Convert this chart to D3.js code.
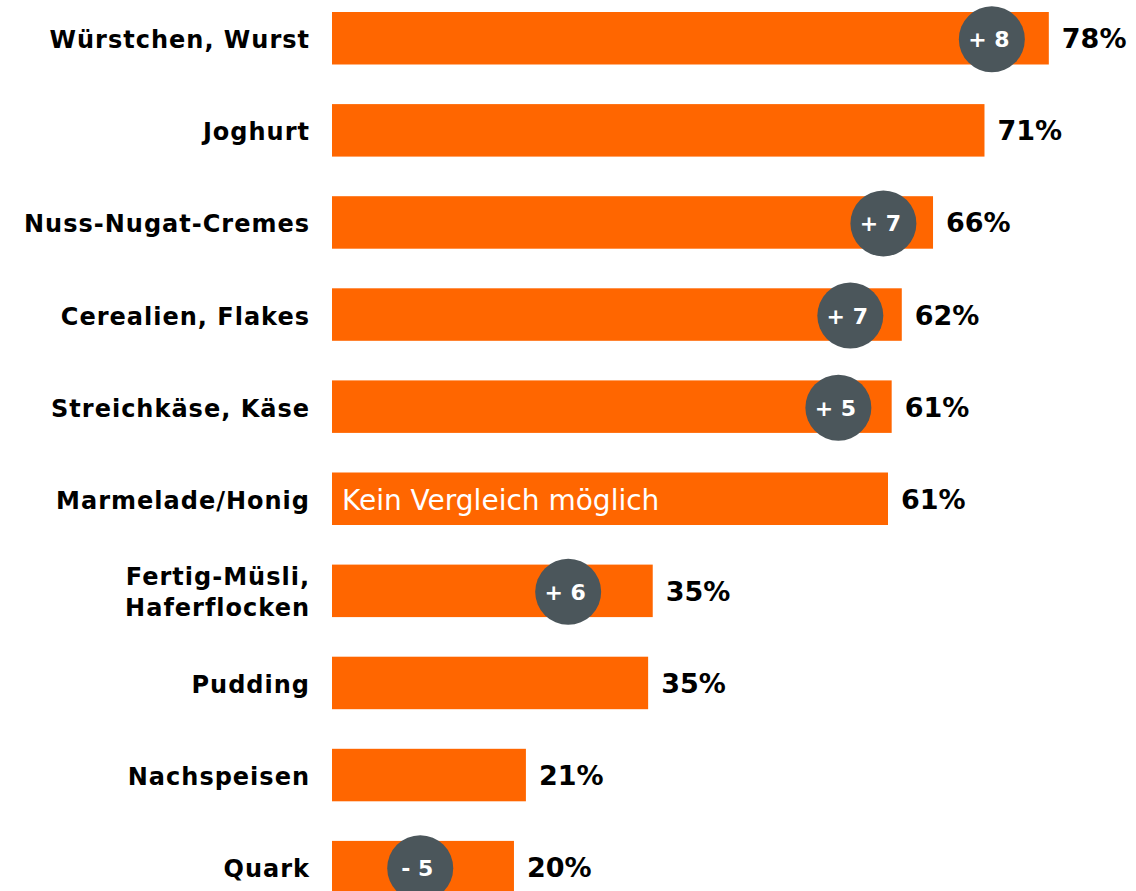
<!DOCTYPE html>
<html>
<head>
<meta charset="utf-8">
<script src="https://cdn.jsdelivr.net/npm/d3@7"></script>
<style>
  body { margin: 0; background: #fff; }
</style>
</head>
<body>
<script>
// categories, top to bottom
var categories = ["Würstchen, Wurst", "Joghurt", "Nuss-Nugat-Cremes", "Cerealien, Flakes",
  "Streichkäse, Käse", "Marmelade/Honig", "Fertig-Müsli, Haferflocken", "Pudding", "Nachspeisen", "Quark"];
// share in percent (bar length)
var values = [78, 71, 65.4, 62, 60.9, 60.5, 34.9, 34.4, 21.1, 19.8];
var valueLabels = ["78%", "71%", "66%", "62%", "61%", "61%", "35%", "35%", "21%", "20%"];
// change vs. previous survey (null = no badge)
var changes = ["+ 8", null, "+ 7", "+ 7", "+ 5", null, "+ 6", null, null, "- 5"];
// where the badge sits, in percent units
var changeAt = [71.8, null, 60.0, 56.4, 55.1, null, 25.7, null, null, 9.6];
var noteText = ["", "", "", "", "", "Kein Vergleich möglich", "", "", "", ""];

window.onload = function(){
  var w = 1136, h = 891;
  var orange = "#ff6600", grey = "#4b565b";

  var svg = d3.select("body").append("svg")
    .attr("width", w)
    .attr("height", h);

  var x = d3.scaleLinear()
    .domain([0, 100])
    .range([332, 1251]);

  var y = d3.scaleBand()
    .domain(categories)
    .range([-7.8, 913.2])
    .paddingInner(0.43)
    .paddingOuter(0.215);

  var rows = categories.map(function(c, i){
    return { cat: c, v: values[i], lab: valueLabels[i], chg: changes[i], at: changeAt[i], note: noteText[i] };
  });

  function mid(d){ return y(d.cat) + y.bandwidth() / 2; }

  // bars
  svg.selectAll(".bar")
    .data(rows)
    .enter()
    .append("rect")
    .attr("class", "bar")
    .attr("x", x(0))
    .attr("y", function(d){ return y(d.cat); })
    .attr("width", function(d){ return x(d.v) - x(0); })
    .attr("height", y.bandwidth())
    .style("fill", orange);

  // category labels, right aligned
  var cats = svg.selectAll(".cat")
    .data(rows)
    .enter()
    .append("text")
    .attr("class", "cat")
    .attr("text-anchor", "end")
    .style("font-family", "'DejaVu Sans', Verdana, sans-serif")
    .style("font-weight", "bold")
    .style("font-size", "24px")
    .style("letter-spacing", "1px")
    .style("fill", "#000");

  cats.each(function(d){
    var parts = d.cat == "Fertig-Müsli, Haferflocken" ? ["Fertig-Müsli,", "Haferflocken"] : [d.cat];
    var t = d3.select(this);
    parts.forEach(function(p, k){
      t.append("tspan")
        .attr("x", 310)
        .attr("y", mid(d) + 10 + (k - (parts.length - 1) / 2) * 31)
        .text(p);
    });
  });

  // value labels
  svg.selectAll(".val")
    .data(rows)
    .enter()
    .append("text")
    .attr("class", "val")
    .attr("x", function(d){ return x(d.v) + 13; })
    .attr("y", function(d){ return mid(d) + 10; })
    .style("font-family", "'DejaVu Sans', sans-serif")
    .style("font-weight", "bold")
    .style("font-size", "27px")
    .style("fill", "#000")
    .text(function(d){ return d.lab; });

  // note inside bar
  svg.selectAll(".note")
    .data(rows.filter(function(d){ return d.note; }))
    .enter()
    .append("text")
    .attr("class", "note")
    .attr("x", x(0) + 10)
    .attr("y", function(d){ return mid(d) + 11; })
    .style("font-family", "'DejaVu Sans', Verdana, sans-serif")
    .style("font-size", "28px")
    .style("fill", "#fff")
    .text(function(d){ return d.note; });

  // change badges
  var badges = svg.selectAll(".badge")
    .data(rows.filter(function(d){ return d.chg; }))
    .enter()
    .append("g")
    .attr("class", "badge")
    .attr("transform", function(d){
      return "translate(" + x(d.at) + "," + (mid(d) + 1) + ")";
    });

  badges.append("circle")
    .attr("r", 33)
    .style("fill", grey);

  badges.append("text")
    .attr("text-anchor", "middle")
    .attr("x", -3)
    .attr("y", 8)
    .style("font-family", "'DejaVu Sans', sans-serif")
    .style("font-weight", "bold")
    .style("font-size", "22px")
    .style("fill", "#fff")
    .text(function(d){ return d.chg; });
};
</script>
</body>
</html>
